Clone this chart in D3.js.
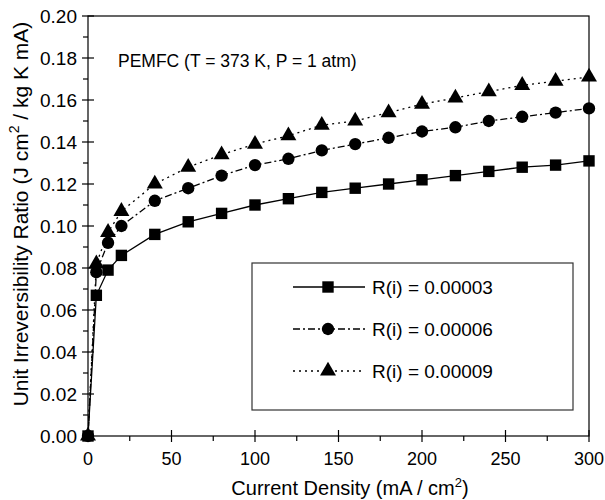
<!DOCTYPE html>
<html>
<head>
<meta charset="utf-8">
<script src="https://cdn.jsdelivr.net/npm/d3@7"></script>
<style>
  body { margin: 0; background: #fff; }
  svg text { font-family: "Liberation Sans", Arial, sans-serif; fill: #000; }
</style>
</head>
<body>
<div id="chart"></div>
<script>
// data
const currentDensity = [0, 5, 12, 20, 40, 60, 80, 100, 120, 140, 160, 180, 200, 220, 240, 260, 280, 300];
const ratioR3 = [0, 0.067, 0.079, 0.086, 0.096, 0.102, 0.106, 0.110, 0.113, 0.116, 0.118, 0.120, 0.122, 0.124, 0.126, 0.128, 0.129, 0.131];
const ratioR6 = [0, 0.078, 0.092, 0.100, 0.112, 0.118, 0.124, 0.129, 0.132, 0.136, 0.139, 0.142, 0.145, 0.147, 0.150, 0.152, 0.154, 0.156];
const ratioR9 = [0, 0.082, 0.097, 0.107, 0.120, 0.128, 0.134, 0.139, 0.143, 0.148, 0.150, 0.154, 0.158, 0.161, 0.164, 0.167, 0.169, 0.171];
const seriesNames = ['R(i) = 0.00003', 'R(i) = 0.00006', 'R(i) = 0.00009'];
const xTicks = [0, 50, 100, 150, 200, 250, 300];
const yTicks = [0, 0.02, 0.04, 0.06, 0.08, 0.10, 0.12, 0.14, 0.16, 0.18, 0.20];

const margin = { top: 16, right: 16, bottom: 64, left: 88 },
  width = 605 - margin.left - margin.right,
  height = 500 - margin.top - margin.bottom;

const svg = d3.select('#chart')
  .append('svg')
  .attr('width', 605)
  .attr('height', 500)
  .append('g')
  .attr('transform', `translate(${margin.left},${margin.top})`);

const x = d3.scaleLinear().domain([0, 300]).range([0, width]);
const y = d3.scaleLinear().domain([0, 0.2]).range([height, 0]);

// frame
svg.append('rect')
  .attr('width', width)
  .attr('height', height)
  .attr('fill', 'none')
  .attr('stroke', '#000')
  .attr('stroke-width', 1.2);

// x axis: major ticks cross the axis, minor ticks point out
const xAxis = svg.append('g').attr('transform', `translate(0,${height})`);
xAxis.selectAll('line.minor')
  .data(d3.range(25, 300, 50))
  .join('line')
  .attr('x1', d => x(d)).attr('x2', d => x(d))
  .attr('y1', 0).attr('y2', 5)
  .attr('stroke', '#000').attr('stroke-width', 1.2);
xAxis.selectAll('line.major')
  .data(xTicks)
  .join('line')
  .attr('x1', d => x(d)).attr('x2', d => x(d))
  .attr('y1', -6).attr('y2', 6)
  .attr('stroke', '#000').attr('stroke-width', 1.2);
xAxis.selectAll('text')
  .data(xTicks)
  .join('text')
  .attr('x', d => x(d))
  .attr('y', 29)
  .attr('text-anchor', 'middle')
  .style('font-size', '18px')
  .text(d => d);

// y axis
const yAxis = svg.append('g');
yAxis.selectAll('line.minor')
  .data(d3.range(0.01, 0.2, 0.02))
  .join('line')
  .attr('x1', -5).attr('x2', 0)
  .attr('y1', d => y(d)).attr('y2', d => y(d))
  .attr('stroke', '#000').attr('stroke-width', 1.2);
yAxis.selectAll('line.major')
  .data(yTicks)
  .join('line')
  .attr('x1', -6).attr('x2', 6)
  .attr('y1', d => y(d)).attr('y2', d => y(d))
  .attr('stroke', '#000').attr('stroke-width', 1.2);
yAxis.selectAll('text')
  .data(yTicks)
  .join('text')
  .attr('x', -11)
  .attr('y', d => y(d) + 6.5)
  .attr('text-anchor', 'end')
  .style('font-size', '19px')
  .text(d => d3.format('.2f')(d));

// axis titles
const xTitle = svg.append('text')
  .attr('x', 262)
  .attr('y', height + 59)
  .attr('text-anchor', 'middle')
  .style('font-size', '20px');
xTitle.append('tspan').text('Current Density (mA / cm');
xTitle.append('tspan').attr('dy', -8).style('font-size', '13px').text('2');
xTitle.append('tspan').attr('dy', 8).text(')');

const yTitle = svg.append('text')
  .attr('transform', `translate(${-60},${198}) rotate(-90)`)
  .attr('text-anchor', 'middle')
  .style('font-size', '21px');
yTitle.append('tspan').text('Unit Irreversibility Ratio (J cm');
yTitle.append('tspan').attr('dy', -9).style('font-size', '14px').text('2');
yTitle.append('tspan').attr('dy', 9).text(' / kg K mA)');

svg.append('text')
  .attr('x', 30)
  .attr('y', 51)
  .style('font-size', '17.5px')
  .text('PEMFC (T = 373 K, P = 1 atm)');

// series
const series = [
  { name: seriesNames[0], values: ratioR3, dash: null, symbol: d3.symbolSquare, size: 130 },
  { name: seriesNames[1], values: ratioR6, dash: '7,3,2,3', symbol: d3.symbolCircle, size: 120 },
  { name: seriesNames[2], values: ratioR9, dash: '2,4', symbol: d3.symbolTriangle, size: 110 },
];

const line = d3.line()
  .x((d, i) => x(currentDensity[i]))
  .y(d => y(d));

series.forEach(s => {
  svg.append('path')
    .datum(s.values)
    .attr('d', line)
    .attr('fill', 'none')
    .attr('stroke', '#000')
    .attr('stroke-width', 1.3)
    .attr('stroke-dasharray', s.dash);
  svg.append('g')
    .selectAll('path')
    .data(s.values)
    .join('path')
    .attr('transform', (d, i) => `translate(${x(currentDensity[i])},${y(d)})`)
    .attr('d', d3.symbol().type(s.symbol).size(s.size))
    .attr('fill', '#000');
});

// legend
const legend = svg.append('g').attr('transform', 'translate(164,247)');
legend.append('rect')
  .attr('width', 321)
  .attr('height', 147)
  .attr('fill', '#fff')
  .attr('stroke', '#333')
  .attr('stroke-width', 1.2);
series.forEach((s, i) => {
  const row = legend.append('g').attr('transform', `translate(0,${24 + i * 42})`);
  row.append('line')
    .attr('x1', 41).attr('x2', 113)
    .attr('stroke', '#000')
    .attr('stroke-width', 1.3)
    .attr('stroke-dasharray', s.dash);
  row.append('path')
    .attr('transform', 'translate(76,0)')
    .attr('d', d3.symbol().type(s.symbol).size(s.size))
    .attr('fill', '#000');
  row.append('text')
    .attr('x', 120)
    .attr('y', 7)
    .style('font-size', '19px')
    .text(s.name);
});
</script>
</body>
</html>
